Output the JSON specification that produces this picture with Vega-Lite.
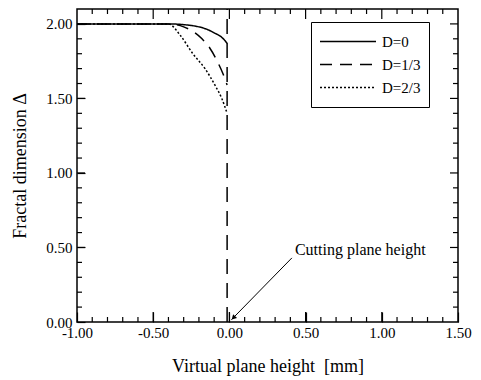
{
  "$schema": "https://vega.github.io/schema/vega-lite/v6.json",
  "width": 381,
  "height": 313,
  "autosize": "none",
  "padding": {"left": 77, "top": 9, "right": 23, "bottom": 58},
  "background": "white",
  "config": {
    "view": {"stroke": "black", "strokeWidth": 1.5},
    "font": "Liberation Serif",
    "axis": {
      "domain": false,
      "grid": false,
      "labelFont": "Liberation Serif",
      "labelFontSize": 15,
      "labelColor": "black",
      "titleFont": "Liberation Serif",
      "titleFontSize": 18,
      "titleFontWeight": "normal",
      "titleColor": "black",
      "labelOverlap": false,
      "labelFlush": false
    }
  },
  "datasets": {
    "curves": [
      {"x": -1.0, "y": 2.0, "D": "D=0"},
      {"x": -0.4, "y": 2.0, "D": "D=0"},
      {"x": -0.3, "y": 1.995, "D": "D=0"},
      {"x": -0.2, "y": 1.98, "D": "D=0"},
      {"x": -0.15, "y": 1.965, "D": "D=0"},
      {"x": -0.1, "y": 1.94, "D": "D=0"},
      {"x": -0.05, "y": 1.91, "D": "D=0"},
      {"x": -0.015, "y": 1.87, "D": "D=0"},
      {"x": -1.0, "y": 2.0, "D": "D=1/3"},
      {"x": -0.4, "y": 2.0, "D": "D=1/3"},
      {"x": -0.3, "y": 1.98, "D": "D=1/3"},
      {"x": -0.24, "y": 1.95, "D": "D=1/3"},
      {"x": -0.18, "y": 1.9, "D": "D=1/3"},
      {"x": -0.13, "y": 1.84, "D": "D=1/3"},
      {"x": -0.08, "y": 1.75, "D": "D=1/3"},
      {"x": -0.04, "y": 1.66, "D": "D=1/3"},
      {"x": -0.015, "y": 1.59, "D": "D=1/3"},
      {"x": -1.0, "y": 2.0, "D": "D=2/3"},
      {"x": -0.4, "y": 2.0, "D": "D=2/3"},
      {"x": -0.32, "y": 1.92, "D": "D=2/3"},
      {"x": -0.24, "y": 1.8, "D": "D=2/3"},
      {"x": -0.16, "y": 1.7, "D": "D=2/3"},
      {"x": -0.09, "y": 1.58, "D": "D=2/3"},
      {"x": -0.05, "y": 1.5, "D": "D=2/3"},
      {"x": -0.015, "y": 1.4, "D": "D=2/3"}
    ],
    "vline": [{"x": -0.015, "y": 0, "y2": 2.1}],
    "arrow": [
      {"x": 0.41, "y": 0.43},
      {"x": 0.013, "y": 0.015}
    ],
    "arrowhead": [{"x": 0.03, "y": 0.032}],
    "note": [{"x": 0.43, "y": 0.48, "label": "Cutting plane height"}],
    "xminor": [{"v": -0.9}, {"v": -0.8}, {"v": -0.7}, {"v": -0.6}, {"v": -0.4}, {"v": -0.3}, {"v": -0.2}, {"v": -0.1}, {"v": 0.1}, {"v": 0.2}, {"v": 0.3}, {"v": 0.4}, {"v": 0.6}, {"v": 0.7}, {"v": 0.8}, {"v": 0.9}, {"v": 1.1}, {"v": 1.2}, {"v": 1.3}, {"v": 1.4}],
    "xmajor": [{"v": -0.5}, {"v": 0}, {"v": 0.5}, {"v": 1.0}],
    "yminor": [{"v": 0.1}, {"v": 0.2}, {"v": 0.3}, {"v": 0.4}, {"v": 0.6}, {"v": 0.7}, {"v": 0.8}, {"v": 0.9}, {"v": 1.1}, {"v": 1.2}, {"v": 1.3}, {"v": 1.4}, {"v": 1.6}, {"v": 1.7}, {"v": 1.8}, {"v": 1.9}],
    "ymajor": [{"v": 0.5}, {"v": 1.0}, {"v": 1.5}, {"v": 2.0}]
  },
  "layer": [
    {
      "data": {"name": "curves"},
      "mark": {"type": "line", "color": "black", "strokeWidth": 1.5, "interpolate": "monotone"},
      "encoding": {
        "x": {
          "field": "x", "type": "quantitative",
          "scale": {"domain": [-1, 1.5], "nice": false, "zero": false},
          "axis": {
            "orient": "bottom",
            "title": "Virtual plane height\u00a0 [mm]",
            "titlePadding": 17,
            "values": [-1, -0.5, 0, 0.5, 1, 1.5],
            "labelExpr": "(datum.value < 0 ? '-' : '') + format(abs(datum.value), '.2f')",
            "tickSize": 10, "tickColor": "black", "tickWidth": 1.2,
            "offset": -10,
            "labelPadding": 3
          }
        },
        "y": {
          "field": "y", "type": "quantitative",
          "scale": {"domain": [0, 2.1], "nice": false},
          "axis": {
            "orient": "left",
            "title": "Fractal dimension Δ",
            "titlePadding": 16,
            "values": [0, 0.5, 1, 1.5, 2],
            "labelExpr": "format(datum.value, '.2f')",
            "tickSize": 8, "tickColor": "black", "tickWidth": 1.2,
            "offset": -8,
            "labelPadding": 5
          }
        },
        "strokeDash": {
          "field": "D", "type": "nominal",
          "scale": {"domain": ["D=0", "D=1/3", "D=2/3"], "range": [[1, 0], [12, 8], [2, 2]]},
          "legend": {
            "title": null,
            "orient": "none",
            "legendX": 234,
            "legendY": 13,
            "strokeColor": "black",
            "fillColor": "white",
            "padding": 8,
            "symbolType": "stroke",
            "symbolSize": 3136,
            "symbolStrokeWidth": 1.5,
            "symbolStrokeColor": "black",
            "clipHeight": 23,
            "rowPadding": 0,
            "labelFont": "Liberation Serif",
            "labelFontSize": 15,
            "labelColor": "black",
            "labelOffset": 5
          }
        }
      }
    },
    {
      "data": {"name": "vline"},
      "mark": {"type": "rule", "color": "black", "strokeWidth": 1.5, "strokeDash": [15, 9]},
      "encoding": {
        "x": {"field": "x", "type": "quantitative"},
        "y": {"field": "y", "type": "quantitative"},
        "y2": {"field": "y2"}
      }
    },
    {
      "data": {"name": "xminor"},
      "mark": {"type": "tick", "orient": "vertical", "color": "black", "size": 5, "thickness": 1.2, "yOffset": -2.5, "opacity": 1},
      "encoding": {
        "x": {"field": "v", "type": "quantitative"},
        "y": {"datum": 0, "type": "quantitative"}
      }
    },
    {
      "data": {"name": "xmajor"},
      "mark": {"type": "tick", "orient": "vertical", "color": "black", "size": 10, "thickness": 1.2, "yOffset": -5, "opacity": 1},
      "encoding": {
        "x": {"field": "v", "type": "quantitative"},
        "y": {"datum": 0, "type": "quantitative"}
      }
    },
    {
      "data": {"name": "xminor"},
      "mark": {"type": "tick", "orient": "vertical", "color": "black", "size": 5, "thickness": 1.2, "yOffset": 2.5, "opacity": 1},
      "encoding": {
        "x": {"field": "v", "type": "quantitative"},
        "y": {"datum": 2.1, "type": "quantitative"}
      }
    },
    {
      "data": {"name": "xmajor"},
      "mark": {"type": "tick", "orient": "vertical", "color": "black", "size": 10, "thickness": 1.2, "yOffset": 5, "opacity": 1},
      "encoding": {
        "x": {"field": "v", "type": "quantitative"},
        "y": {"datum": 2.1, "type": "quantitative"}
      }
    },
    {
      "data": {"name": "yminor"},
      "mark": {"type": "tick", "orient": "horizontal", "color": "black", "size": 5, "thickness": 1.2, "xOffset": 2.5, "opacity": 1},
      "encoding": {
        "y": {"field": "v", "type": "quantitative"},
        "x": {"datum": -1, "type": "quantitative"}
      }
    },
    {
      "data": {"name": "ymajor"},
      "mark": {"type": "tick", "orient": "horizontal", "color": "black", "size": 8, "thickness": 1.2, "xOffset": 4, "opacity": 1},
      "encoding": {
        "y": {"field": "v", "type": "quantitative"},
        "x": {"datum": -1, "type": "quantitative"}
      }
    },
    {
      "data": {"name": "yminor"},
      "mark": {"type": "tick", "orient": "horizontal", "color": "black", "size": 5, "thickness": 1.2, "xOffset": -2.5, "opacity": 1},
      "encoding": {
        "y": {"field": "v", "type": "quantitative"},
        "x": {"datum": 1.5, "type": "quantitative"}
      }
    },
    {
      "data": {"name": "ymajor"},
      "mark": {"type": "tick", "orient": "horizontal", "color": "black", "size": 8, "thickness": 1.2, "xOffset": -4, "opacity": 1},
      "encoding": {
        "y": {"field": "v", "type": "quantitative"},
        "x": {"datum": 1.5, "type": "quantitative"}
      }
    },
    {
      "data": {"name": "arrow"},
      "mark": {"type": "line", "color": "black", "strokeWidth": 1},
      "encoding": {
        "x": {"field": "x", "type": "quantitative"},
        "y": {"field": "y", "type": "quantitative"}
      }
    },
    {
      "data": {"name": "arrowhead"},
      "mark": {"type": "point", "shape": "triangle", "filled": true, "color": "black", "size": 30, "angle": 224, "opacity": 1},
      "encoding": {
        "x": {"field": "x", "type": "quantitative"},
        "y": {"field": "y", "type": "quantitative"}
      }
    },
    {
      "data": {"name": "note"},
      "mark": {"type": "text", "align": "left", "baseline": "middle", "font": "Liberation Serif", "fontSize": 16, "color": "black"},
      "encoding": {
        "x": {"field": "x", "type": "quantitative"},
        "y": {"field": "y", "type": "quantitative"},
        "text": {"field": "label"}
      }
    }
  ]
}
